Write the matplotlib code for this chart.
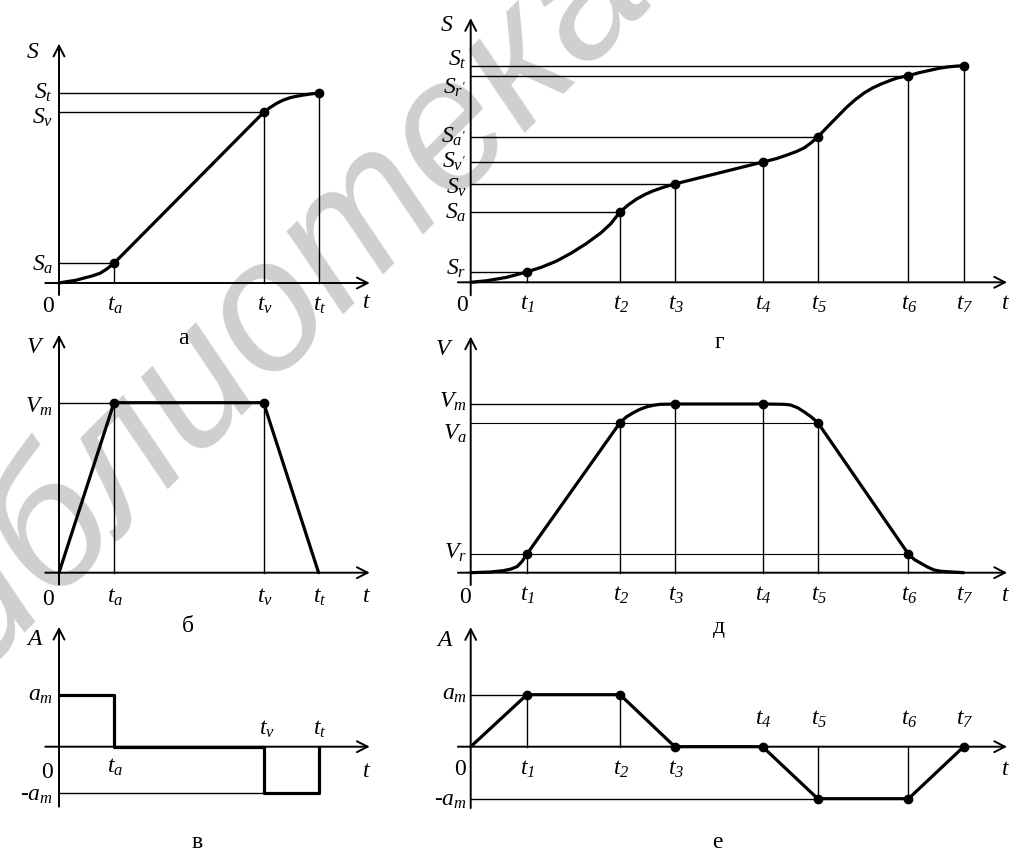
import matplotlib
matplotlib.use('Agg')
import matplotlib.pyplot as plt

W, H = 1014, 858

plt.rcParams['font.family'] = 'Liberation Serif'
plt.rcParams['mathtext.fontset'] = 'custom'
plt.rcParams['mathtext.it'] = 'Liberation Serif:italic'
plt.rcParams['mathtext.rm'] = 'Liberation Serif:italic'

# ---- left column: trapezoid velocity profile (а, б, в)
ta, tv, tt = 1.0, 3.72, 4.72
t_left = [ta, tv, tt]
t_left_names = [r'$t_a$', r'$t_v$', r'$t_t$']

S_left = [0.104, 0.898, 1.0]           # Sa, Sv, St
S_left_names = [r'$S_a$', r'$S_v$', r'$S_t$']
s1_t = [0, 0.14, 0.3, 0.44, 0.6, 0.745, 0.87, 1.0, 3.72, 3.84, 3.96, 4.08, 4.2, 4.32, 4.44, 4.58, 4.72]
s1 = [0, 0.007, 0.014, 0.025, 0.037, 0.051, 0.074, 0.104, 0.898, 0.924, 0.946, 0.963, 0.975, 0.983,
      0.989, 0.995, 1.0]

Vm = 1.0
v1_t = [0, ta, tv, tt]
v1 = [0, Vm, Vm, 0]

am_pos, am_neg = 1.0, -0.9
a1_t = [0, ta, ta, tv, tv, tt, tt]
a1 = [am_pos, am_pos, 0, 0, am_neg, am_neg, 0]

# ---- right column: S-curve profile (г, д, е)
t_right = [1.14, 3.03, 4.14, 5.92, 7.04, 8.88, 10.0]
t_right_names = [r'$t_%d$' % i for i in range(1, 8)]

S_right = [0.048, 0.325, 0.454, 0.555, 0.671, 0.954, 1.0]
S_right_names = [r'$S_r$', r'$S_a$', r'$S_v$', r"$S_{v'}$", r"$S_{a'}$", r"$S_{r'}$", r'$S_t$']
s2_t = [0, 0.32, 0.73, 1.14, 1.44, 1.74, 2.04, 2.34, 2.64, 2.84, 3.03, 3.2, 3.37, 3.54, 3.70,
        3.9, 4.14, 5.92, 6.2, 6.42, 6.6, 6.76, 6.9, 7.04, 7.17, 7.31, 7.47, 7.63, 7.8, 7.98,
        8.15, 8.32, 8.5, 8.65, 8.88, 9.1, 9.34, 9.5, 9.67, 9.84, 10.0]
s2 = [0, 0.007, 0.023, 0.048, 0.07, 0.098, 0.135, 0.178, 0.228, 0.27, 0.325, 0.358, 0.385,
      0.406, 0.422, 0.438, 0.454, 0.555, 0.571, 0.588, 0.603, 0.62, 0.643, 0.671, 0.702,
      0.735, 0.772, 0.809, 0.843, 0.874, 0.897, 0.915, 0.931, 0.943, 0.954, 0.968, 0.98,
      0.988, 0.994, 0.998, 1.0]

Vr, Va, Vm2 = 0.11, 0.89, 1.0
v2_t = [0, 0.4, 0.66, 0.82, 0.94, 1.04, 1.14, 3.03, 3.16, 3.29, 3.43, 3.58, 3.72, 3.84, 4.14,
        5.92, 6.2, 6.36, 6.49, 6.63, 6.76, 6.9, 7.04, 8.88, 9.0, 9.13, 9.27, 9.4, 9.53, 9.66, 10.0]
v2 = [0, 0.004, 0.012, 0.022, 0.036, 0.066, 0.11, 0.89, 0.924, 0.947, 0.968, 0.984, 0.993,
      0.998, 1.0, 1.0, 0.999, 0.998, 0.994, 0.978, 0.954, 0.925, 0.89, 0.11, 0.078, 0.056,
      0.033, 0.016, 0.009, 0.006, 0]
v2_dots = [Vr, Va, Vm2, Vm2, Va, Vr]

a2_t = [0] + t_right
a2 = [0, 1, 1, 0, 0, -1, -1, 0]

THICK = 2.3
THIN = 1.0
FS = 17

fig = plt.figure(figsize=(W / 100, H / 100), dpi=100)
fig.patch.set_facecolor('white')

fig.text(245 / W, 1 - 335 / H, 'библиотека', family='Liberation Sans', style='italic',
         fontsize=133, color='#cfcfcf', rotation=45, ha='center', va='center',
         rotation_mode='anchor', zorder=-5)


def panel(x0, y0, sx, sy, box):
    L, T, R, B = box
    ax = fig.add_axes([L / W, 1 - B / H, (R - L) / W, (B - T) / H])
    ax.set_xlim((L - x0) / sx, (R - x0) / sx)
    ax.set_ylim((y0 - B) / sy, (y0 - T) / sy)
    ax.axis('off')
    return ax


def arrows(ax, xr, yr):
    st = '->, head_length=0.55, head_width=0.28'
    ax.annotate('', xy=(xr[1], 0), xytext=(xr[0], 0),
                arrowprops=dict(arrowstyle=st, lw=1.4, color='black', shrinkA=0, shrinkB=0,
                                mutation_scale=14))
    ax.annotate('', xy=(0, yr[1]), xytext=(0, yr[0]),
                arrowprops=dict(arrowstyle=st, lw=1.4, color='black', shrinkA=0, shrinkB=0,
                                mutation_scale=14))


def lab(ax, s, xy, dx, dy, ha='center', size=FS):
    ax.annotate(s, xy=xy, xytext=(dx, -dy), textcoords='offset pixels',
                ha=ha, va='center', fontsize=size)


def hline(ax, y, x1, lw=THIN):
    ax.plot([0, x1], [y, y], color='black', lw=lw, clip_on=False)


def vline(ax, x, y1, lw=THIN):
    ax.plot([x, x], [0, y1], color='black', lw=lw, clip_on=False)


def dots(ax, xs, ys):
    ax.plot(xs, ys, 'o', color='black', ms=6, clip_on=False, zorder=5)


def curve(ax, xs, ys):
    ax.plot(xs, ys, color='black', lw=THICK, solid_joinstyle='round',
            solid_capstyle='round', clip_on=False, zorder=4)


# ---------- а : S(t), trapezoid
ax = panel(59, 283, 55, 190, (0, 0, 400, 320))
arrows(ax, (-0.25, 5.65), (-0.063, 1.26))
for t, s in zip(t_left, S_left):
    hline(ax, s, t)
    vline(ax, t, s)
curve(ax, s1_t, s1)
dots(ax, t_left, S_left)
for name, s, dy in zip(S_left_names, S_left, [2, 5, 0]):
    lab(ax, name, (0, s), -6, dy, ha='right')
for name, t in zip(t_left_names, t_left):
    lab(ax, name, (t, 0), 1, 22)
lab(ax, '0', (0, 0), -11, 23)
lab(ax, r'$S$', (0, 1.26), -26, 9)
lab(ax, r'$t$', (5.65, 0), -3, 20)

# ---------- б : V(t), trapezoid
ax = panel(59, 572.7, 55, 170, (0, 320, 400, 615))
arrows(ax, (-0.25, 5.65), (-0.07, 1.4))
hline(ax, Vm, ta)
vline(ax, ta, Vm)
vline(ax, tv, Vm)
curve(ax, v1_t, v1)
dots(ax, [ta, tv], [Vm, Vm])
lab(ax, r'$V_m$', (0, Vm), -6, 4, ha='right')
for name, t in zip(t_left_names, t_left):
    lab(ax, name, (t, 0), 1, 25)
lab(ax, '0', (0, 0), -11, 27)
lab(ax, r'$V$', (0, 1.4), -24, 13)
lab(ax, r'$t$', (5.65, 0), -3, 24)

# ---------- в : A(t), trapezoid
ax = panel(59, 746.7, 55, 51.7, (0, 615, 400, 858))
arrows(ax, (-0.25, 5.65), (-1.16, 2.32))
hline(ax, am_neg, tv)
curve(ax, a1_t, a1)
lab(ax, r'$a_m$', (0, am_pos), -6, 0, ha='right')
lab(ax, r'-$a_m$', (0, am_neg), -6, 2, ha='right')
lab(ax, '0', (0, 0), -12, 26)
lab(ax, t_left_names[0], (ta, 0), 1, 21)
lab(ax, t_left_names[1], (tv, 0), 3, -17)
lab(ax, t_left_names[2], (tt, 0), 1, -17)
lab(ax, r'$A$', (0, 2.32), -24, 13)
lab(ax, r'$t$', (5.65, 0), -3, 25)

# ---------- г : S(t), S-curve
ax = panel(470.7, 282.3, 49.3, 216.6, (400, 0, 1014, 320))
arrows(ax, (-0.26, 10.88), (-0.06, 1.22))
for t, s in zip(t_right, S_right):
    hline(ax, s, t)
    vline(ax, t, s)
curve(ax, s2_t, s2)
dots(ax, t_right, S_right)
for name, s, dy in zip(S_right_names, S_right, [-3, 1, 4, 0, 0, 12, -6]):
    lab(ax, name, (0, s), -4, dy, ha='right')
for name, t in zip(t_right_names, t_right):
    lab(ax, name, (t, 0), 1, 22)
lab(ax, '0', (0, 0), -9, 23)
lab(ax, r'$S$', (0, 1.22), -24, 7)
lab(ax, r'$t$', (10.88, 0), -2, 21)

# ---------- д : V(t), S-curve
ax = panel(470.7, 572.7, 49.3, 168.7, (400, 320, 1014, 615))
arrows(ax, (-0.26, 10.88), (-0.073, 1.4))
hline(ax, Vm2, t_right[2])
hline(ax, Va, t_right[4], lw=0.8)
hline(ax, Vr, t_right[5], lw=0.8)
for t, v in zip(t_right[:6], v2_dots):
    vline(ax, t, v)
curve(ax, v2_t, v2)
dots(ax, t_right[:6], v2_dots)
lab(ax, r'$V_m$', (0, Vm2), -4, -2, ha='right')
lab(ax, r'$V_a$', (0, Va), -4, 11, ha='right')
lab(ax, r'$V_r$', (0, Vr), -4, -1, ha='right')
for name, t in zip(t_right_names, t_right):
    lab(ax, name, (t, 0), 1, 23)
lab(ax, '0', (0, 0), -6, 25)
lab(ax, r'$V$', (0, 1.4), -26, 13)
lab(ax, r'$t$', (10.88, 0), -2, 23)

# ---------- е : A(t), S-curve
ax = panel(470.7, 746.7, 49.3, 52, (400, 615, 1014, 858))
arrows(ax, (-0.26, 10.88), (-1.18, 2.3))
hline(ax, 1, t_right[0])
vline(ax, t_right[0], 1)
vline(ax, t_right[1], 1)
hline(ax, -1, t_right[4])
vline(ax, t_right[4], -1)
vline(ax, t_right[5], -1)
curve(ax, a2_t, a2)
dots(ax, t_right, a2[1:])
lab(ax, r'$a_m$', (0, 1), -4, 0, ha='right')
lab(ax, r'-$a_m$', (0, -1), -4, 2, ha='right')
lab(ax, '0', (0, 0), -11, 23)
for i, (name, t) in enumerate(zip(t_right_names, t_right)):
    lab(ax, name, (t, 0), 1, 23 if i < 3 else -27)
lab(ax, r'$A$', (0, 2.3), -26, 13)
lab(ax, r'$t$', (10.88, 0), -2, 23)

# panel letters
for s, x, y in [('а', 183, 338), ('б', 188, 627), ('в', 197, 843),
                ('г', 719, 343), ('д', 719, 628), ('е', 717, 843)]:
    fig.text(x / W, 1 - y / H, s, fontsize=FS, ha='center', va='center')

fig.savefig('out.png', dpi=100, facecolor='white')
